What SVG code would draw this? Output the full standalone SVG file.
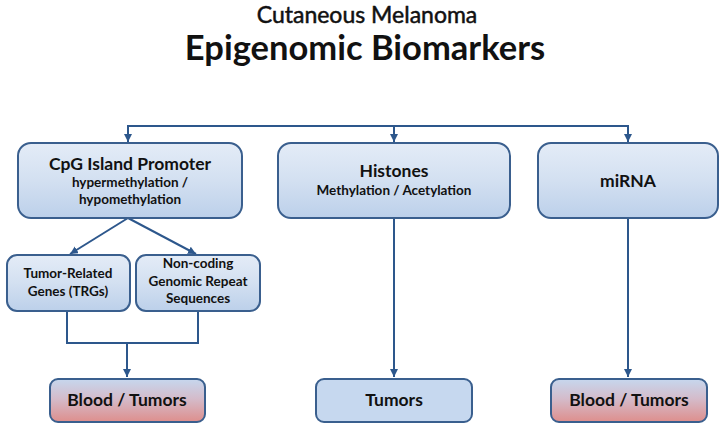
<svg xmlns="http://www.w3.org/2000/svg" width="724" height="428" viewBox="0 0 724 428">
<defs>
<linearGradient id="gBlue" x1="0" y1="0" x2="0" y2="1">
<stop offset="0" stop-color="#e4ecf7"/>
<stop offset="0.5" stop-color="#d3e0f1"/>
<stop offset="1" stop-color="#bcd0ea"/>
</linearGradient>
<linearGradient id="gRed" x1="0" y1="0" x2="0" y2="1">
<stop offset="0" stop-color="#c6d7ee"/>
<stop offset="0.45" stop-color="#d4bccb"/>
<stop offset="1" stop-color="#de8e8c"/>
</linearGradient>
<marker id="arr" viewBox="0 0 10 10" refX="10" refY="5" markerWidth="4" markerHeight="4" orient="auto" markerUnits="strokeWidth">
<path d="M0,0 L10,5 L0,10 z" fill="#2d578c"/>
</marker>
</defs>
<style>
text{font-family:Lato,"Open Sans","Liberation Sans",sans-serif;fill:#111;text-anchor:middle}
.box{stroke:#3a5f8e;stroke-width:2}
.blue{fill:url(#gBlue)}
.red{fill:url(#gRed)}
.flat{fill:#c6d8ef}
.h{font-size:17.5px;font-weight:700}
.s{font-size:13.5px;font-weight:700}
.m{font-size:13.5px;font-weight:700}
.c{fill:none;stroke:#2d578c;stroke-width:2}
</style>
<rect width="724" height="428" fill="#fff"/>
<g id="title">
<text x="367" y="23" style="font-size:23px;font-weight:400;stroke:#111;stroke-width:0.5">Cutaneous Melanoma</text>
<text x="365" y="60" style="font-size:34.5px;font-weight:700">Epigenomic Biomarkers</text>
</g>
<g id="connectors">
<path class="c" d="M128,126 H628"/>
<path class="c" d="M128,125 V142" marker-end="url(#arr)"/>
<path class="c" d="M394,126 V142" marker-end="url(#arr)"/>
<path class="c" d="M628,125 V142" marker-end="url(#arr)"/>
<path class="c" d="M128,218 L70,254" marker-end="url(#arr)"/>
<path class="c" d="M128,218 L196,254" marker-end="url(#arr)"/>
<path class="c" d="M67,311 V343 H198 V311"/>
<path class="c" d="M127,343 V377" marker-end="url(#arr)"/>
<path class="c" d="M394,218 V377" marker-end="url(#arr)"/>
<path class="c" d="M628,218 V377" marker-end="url(#arr)"/>
</g>
<g id="cpg">
<rect class="box blue" x="18" y="143" width="224" height="75" rx="13"/>
<text class="h" x="130" y="170">CpG Island Promoter</text>
<text class="s" x="130" y="187">hypermethylation /</text>
<text class="s" x="130" y="204">hypomethylation</text>
</g>
<g id="histones">
<rect class="box blue" x="278" y="143" width="232" height="75" rx="13"/>
<text class="h" x="394" y="177">Histones</text>
<text class="s" x="394" y="195">Methylation / Acetylation</text>
</g>
<g id="mirna">
<rect class="box blue" x="538" y="143" width="180" height="75" rx="13"/>
<text class="h" x="628" y="187">miRNA</text>
</g>
<g id="trg">
<rect class="box blue" x="7" y="255" width="123" height="56" rx="10"/>
<text class="m" x="68" y="278">Tumor-Related</text>
<text class="m" x="68" y="296">Genes (TRGs)</text>
</g>
<g id="noncoding">
<rect class="box blue" x="136" y="255" width="124" height="56" rx="10"/>
<text class="m" x="198" y="268">Non-coding</text>
<text class="m" x="198" y="286">Genomic Repeat</text>
<text class="m" x="198" y="303">Sequences</text>
</g>
<g id="blood1">
<rect class="box red" x="50" y="379" width="155" height="43" rx="8"/>
<text class="h" x="127" y="406">Blood / Tumors</text>
</g>
<g id="tumors">
<rect class="box flat" x="316" y="379" width="156" height="43" rx="8"/>
<text class="h" x="394" y="406">Tumors</text>
</g>
<g id="blood2">
<rect class="box red" x="551" y="379" width="156" height="43" rx="8"/>
<text class="h" x="629" y="406">Blood / Tumors</text>
</g>
</svg>
